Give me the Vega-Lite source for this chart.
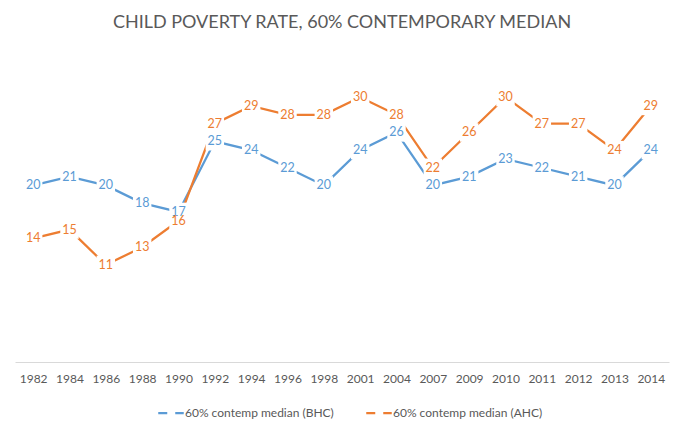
{
  "$schema": "https://vega.github.io/schema/vega-lite/v6.json",
  "width": 654,
  "height": 309,
  "autosize": {"type": "none"},
  "padding": {"left": 15, "top": 53, "right": 19, "bottom": 70},
  "background": "white",
  "title": {
    "text": "CHILD POVERTY RATE, 60% CONTEMPORARY MEDIAN",
    "font": "Lato",
    "fontSize": 18,
    "fontWeight": "normal",
    "color": "#595959",
    "offset": 21,
    "anchor": "middle"
  },
  "config": {
    "view": {"stroke": null},
    "axis": {"grid": false}
  },
  "data": {
    "values": [
      {"year": "1982", "series": "60%  contemp median (BHC)", "value": 20},
      {"year": "1984", "series": "60%  contemp median (BHC)", "value": 21},
      {"year": "1986", "series": "60%  contemp median (BHC)", "value": 20},
      {"year": "1988", "series": "60%  contemp median (BHC)", "value": 18},
      {"year": "1990", "series": "60%  contemp median (BHC)", "value": 17},
      {"year": "1992", "series": "60%  contemp median (BHC)", "value": 25},
      {"year": "1994", "series": "60%  contemp median (BHC)", "value": 24},
      {"year": "1996", "series": "60%  contemp median (BHC)", "value": 22},
      {"year": "1998", "series": "60%  contemp median (BHC)", "value": 20},
      {"year": "2001", "series": "60%  contemp median (BHC)", "value": 24},
      {"year": "2004", "series": "60%  contemp median (BHC)", "value": 26},
      {"year": "2007", "series": "60%  contemp median (BHC)", "value": 20},
      {"year": "2009", "series": "60%  contemp median (BHC)", "value": 21},
      {"year": "2010", "series": "60%  contemp median (BHC)", "value": 23},
      {"year": "2011", "series": "60%  contemp median (BHC)", "value": 22},
      {"year": "2012", "series": "60%  contemp median (BHC)", "value": 21},
      {"year": "2013", "series": "60%  contemp median (BHC)", "value": 20},
      {"year": "2014", "series": "60%  contemp median (BHC)", "value": 24},
      {"year": "1982", "series": "60%  contemp median (AHC)", "value": 14},
      {"year": "1984", "series": "60%  contemp median (AHC)", "value": 15},
      {"year": "1986", "series": "60%  contemp median (AHC)", "value": 11},
      {"year": "1988", "series": "60%  contemp median (AHC)", "value": 13},
      {"year": "1990", "series": "60%  contemp median (AHC)", "value": 16},
      {"year": "1992", "series": "60%  contemp median (AHC)", "value": 27},
      {"year": "1994", "series": "60%  contemp median (AHC)", "value": 29},
      {"year": "1996", "series": "60%  contemp median (AHC)", "value": 28},
      {"year": "1998", "series": "60%  contemp median (AHC)", "value": 28},
      {"year": "2001", "series": "60%  contemp median (AHC)", "value": 30},
      {"year": "2004", "series": "60%  contemp median (AHC)", "value": 28},
      {"year": "2007", "series": "60%  contemp median (AHC)", "value": 22},
      {"year": "2009", "series": "60%  contemp median (AHC)", "value": 26},
      {"year": "2010", "series": "60%  contemp median (AHC)", "value": 30},
      {"year": "2011", "series": "60%  contemp median (AHC)", "value": 27},
      {"year": "2012", "series": "60%  contemp median (AHC)", "value": 27},
      {"year": "2013", "series": "60%  contemp median (AHC)", "value": 24},
      {"year": "2014", "series": "60%  contemp median (AHC)", "value": 29}
    ]
  },
  "encoding": {
    "x": {
      "field": "year",
      "type": "ordinal",
      "scale": {"padding": 0.5},
      "axis": {
        "title": null,
        "labelAngle": 0,
        "ticks": false,
        "domainColor": "#d9d9d9",
        "domainWidth": 1,
        "labelFont": "Lato",
        "labelFontSize": 12,
        "labelColor": "#595959",
        "labelPadding": 11
      }
    },
    "y": {
      "field": "value",
      "type": "quantitative",
      "scale": {"domain": [0, 35]},
      "axis": null
    },
    "color": {
      "field": "series",
      "type": "nominal",
      "scale": {
        "domain": ["60%  contemp median (BHC)", "60%  contemp median (AHC)"],
        "range": ["#5B9BD5", "#ED7D31"]
      },
      "legend": {
        "title": null,
        "orient": "none",
        "legendX": 142,
        "legendY": 346,
        "direction": "horizontal",
        "symbolType": "stroke",
        "symbolStrokeWidth": 2.25,
        "symbolDash": [9, 8],
        "symbolSize": 650,
        "labelFont": "Lato",
        "labelFontSize": 12,
        "labelColor": "#595959",
        "columnPadding": 24,
        "labelOffset": 0
      }
    }
  },
  "layer": [
    {
      "mark": {"type": "line", "strokeWidth": 2.25}
    },
    {
      "mark": {"type": "point", "shape": "square", "filled": true, "opacity": 1, "size": 340},
      "encoding": {"color": {"value": "white"}}
    },
    {
      "mark": {"type": "text", "font": "Lato", "fontSize": 12.5, "baseline": "middle", "align": "center"},
      "encoding": {"text": {"field": "value", "type": "quantitative"}}
    }
  ]
}
